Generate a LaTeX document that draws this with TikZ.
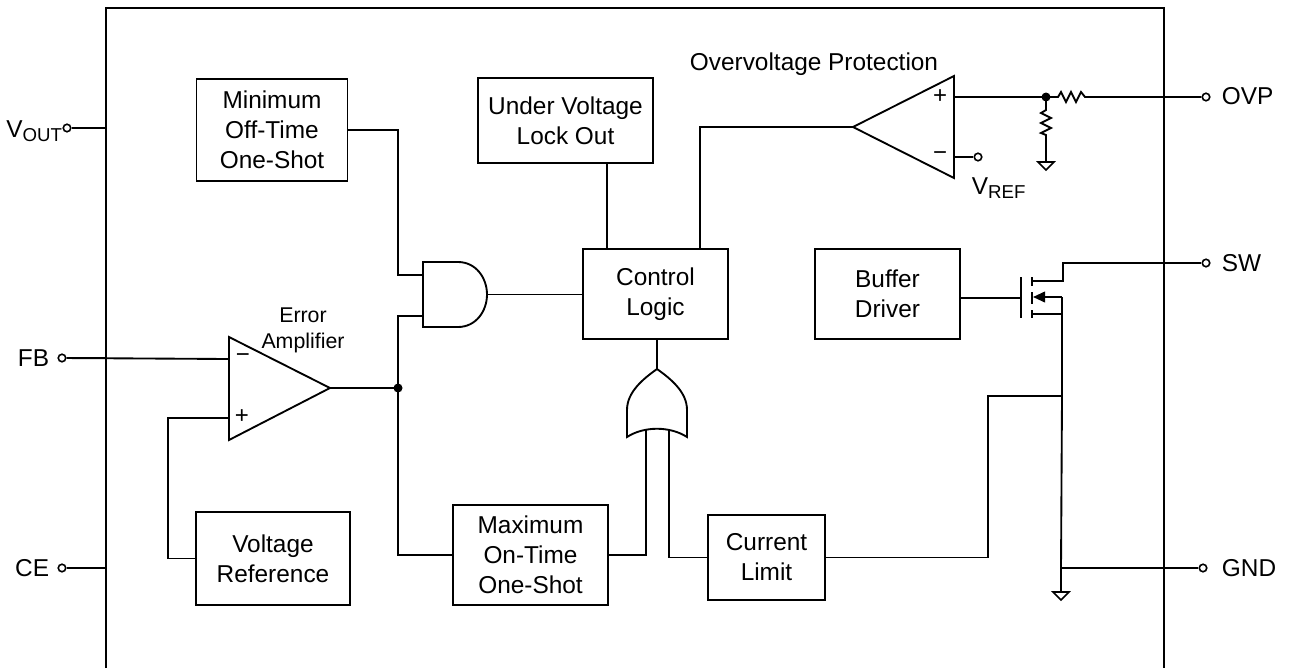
\documentclass[tikz,border=0pt]{standalone}
\usepackage{fontspec}
\setmainfont{Liberation Sans}
\usetikzlibrary{arrows.meta,calc}
\newcommand{\sbs}[1]{\raisebox{-0.35ex}{\fontsize{14}{14}\selectfont #1}}
\begin{document}
\begin{tikzpicture}[x=0.75pt,y=-0.75pt,line width=1.4pt,
  txt/.style={font=\fontsize{18.3}{22.5}\selectfont, inner sep=0pt},
  blk/.style={draw, align=center, font=\fontsize{18.3}{22.5}\selectfont, inner sep=0pt},
  sz/.style 2 args={minimum width=#1*0.75pt, minimum height=#2*0.75pt},
  pinc/.style={circle, draw, fill=white, inner sep=0pt, minimum size=7.5*0.75pt, line width=1.2pt},
  jdot/.style={circle, fill, inner sep=0pt, minimum size=9*0.75pt},
  sgn/.style={font=\fontsize{18}{18}\selectfont, inner sep=0pt}]
\useasboundingbox (0,0) rectangle (1291,668);

% chip outline
\draw (106,668) -- (106,8) -- (1164,8) -- (1164,668);

% blocks
\node[blk, sz={151}{102}] (minoff) at (272,130) {Minimum\\Off-Time\\One-Shot};
\node[blk, sz={175}{85}] (uvlo) at (565.5,120.5) {Under Voltage\\Lock Out};
\node[blk, sz={145}{90}] (ctrl) at (655.5,294) {Control\\Logic};
\node[blk, sz={145}{90}] (buf) at (887.5,294) {Buffer\\Driver};
\node[blk, sz={154}{93}] (vref) at (273,558.5) {Voltage\\Reference};
\node[blk, sz={155}{100}] (maxon) at (530.5,555) {Maximum\\On-Time\\One-Shot};
\node[blk, sz={117}{85}] (curlim) at (766.5,557.5) {Current\\Limit};

% pins
\node[pinc] (vout) at (67,128) {};
\node[txt, anchor=east] (voutl) at (63,131) {V\sbs{OUT}};
\node[pinc] (fb) at (62,358) {};
\node[txt, anchor=east] (fbl) at (50,358) {FB};
\node[pinc] (ce) at (62,568) {};
\node[txt, anchor=east] (cel) at (50,568) {CE};
\node[pinc] (ovp) at (1206,97) {};
\node[txt, anchor=west] (ovpl) at (1221,96) {OVP};
\node[pinc] (sw) at (1206,263) {};
\node[txt, anchor=west] (swl) at (1221,263) {SW};
\node[pinc] (gnd) at (1203,568) {};
\node[txt, anchor=west] (gndl) at (1221,568) {GND};

\coordinate (voute) at (106,128);
\coordinate (fbe) at (106,358);
\coordinate (cee) at (106,568);
\draw (vout) -- (voute);
\draw (ce) -- (cee);

% error amplifier
\draw (229,337) -- (330,388) -- (229,440) -- cycle;
\coordinate (eam) at (229,359);
\coordinate (eap) at (229,418);
\coordinate (eao) at (330,388);
\node[sgn] (eamin) at (243,358) {−};
\node[sgn] (eaplus) at (242,417) {+};
\node[txt, align=center, font=\fontsize{16}{19.5}\selectfont] (eal) at (303,330) {Error\\Amplifier};
\draw (fb) -- (eam);
\coordinate (vr1) at (168,418);
\draw (eap) -- (vr1) |- (vref.west);

% AND gate
\draw (423,262) -- (458,262) .. controls (476,262) and (487,278) .. (487,294.5)
      .. controls (487,311) and (476,327) .. (458,327) -- (423,327) -- cycle;
\coordinate (andin1) at (423,275);
\coordinate (andin2) at (423,316);
\coordinate (andout) at (487,294.5);
\coordinate (j1) at (398,275);
\coordinate (j2) at (398,316);
\node[jdot] (dot1) at (398,388) {};
\draw (minoff.east) -| (j1) -- (andin1);
\draw (andin2) -- (j2) -- (dot1.center);
\draw (eao) -- (dot1.center) |- (maxon.west);
\draw (andout) -- (andout -| ctrl.west);

% OR gate
\draw (627,437) -- (627,410) .. controls (627,392) and (643,379) .. (657,369)
      .. controls (671,379) and (687,392) .. (687,410) -- (687,437)
      .. controls (670,426) and (644,426) .. cycle;
\coordinate (ortip) at (657,369);
\coordinate (orin1) at (646,429);
\coordinate (orin2) at (669,429);
\draw (ortip) -- (ctrl.south -| ortip);
\draw (orin1) |- (maxon.east);
\draw (orin2) |- (curlim.west);

% UVLO to control
\coordinate (u) at (607,0);
\draw (uvlo.south -| u) -- (ctrl.north -| u);

% OVP comparator
\draw (954,76) -- (853,127) -- (954,178) -- cycle;
\coordinate (cmpo) at (853,127);
\coordinate (cmpp) at (954,97);
\coordinate (cmpm) at (954,157);
\node[sgn] (cplus) at (940,97) {+};
\node[sgn] (cmin) at (940,156) {−};
\node[pinc] (vrefp) at (978,157) {};
\draw (cmpm) -- (vrefp);
\node[txt, anchor=west] (vrefl) at (971,188) {V\sbs{REF}};
\node[txt] (ovptitle) at (814,64) {Overvoltage Protection};
\coordinate (c1) at (700,127);
\draw (cmpo) -- (c1) -- (ctrl.north -| c1);
\node[jdot] (dot2) at (1046,97) {};
\draw (cmpp) -- (dot2.center) -- (1058,97) -- (1061,92) -- (1066,102) -- (1071,92) -- (1076,102) -- (1081,92) -- (1085,97) -- (ovp);
\coordinate (rg) at (1046,162);
\draw (dot2.center) -- (1046,110) -- (1041,113) -- (1051,118) -- (1041,123) -- (1051,128) -- (1041,133) -- (1046,135) -- (rg);
\draw[line width=1.2pt] (1038,162) -- (1054,162) -- (1046,170) -- cycle;

% MOSFET
\coordinate (gate) at (1021,298);
\draw (buf.east |- gate) -- (gate);
\draw (1021,277) -- (1021,318);
\draw (1032,277) -- (1032,286);
\draw (1032,292) -- (1032,304);
\draw (1032,310) -- (1032,318);
\coordinate (drn) at (1032,281);
\coordinate (src) at (1032,314);
\draw (drn) -- (1063,281) -- (1063,263) -- (sw);
\draw[-{Triangle[length=9pt,width=8pt]}] (1062,297) -- (1033,297);
\draw (src) -- (1062,314);
\coordinate (s396) at (1062,396);
\coordinate (sgnd) at (1061,568);
\draw (1062,297) -- (s396) -- (sgnd) -- (1061,592);
\draw (sgnd) -- (gnd);
\draw[line width=1.2pt] (1053,592) -- (1069,592) -- (1061,600) -- cycle;

% current limit return
\coordinate (cl) at (988,396);
\draw (curlim.east) -| (cl) -- (s396);

\draw (fb) -- (fbe);
\end{tikzpicture}
\end{document}
